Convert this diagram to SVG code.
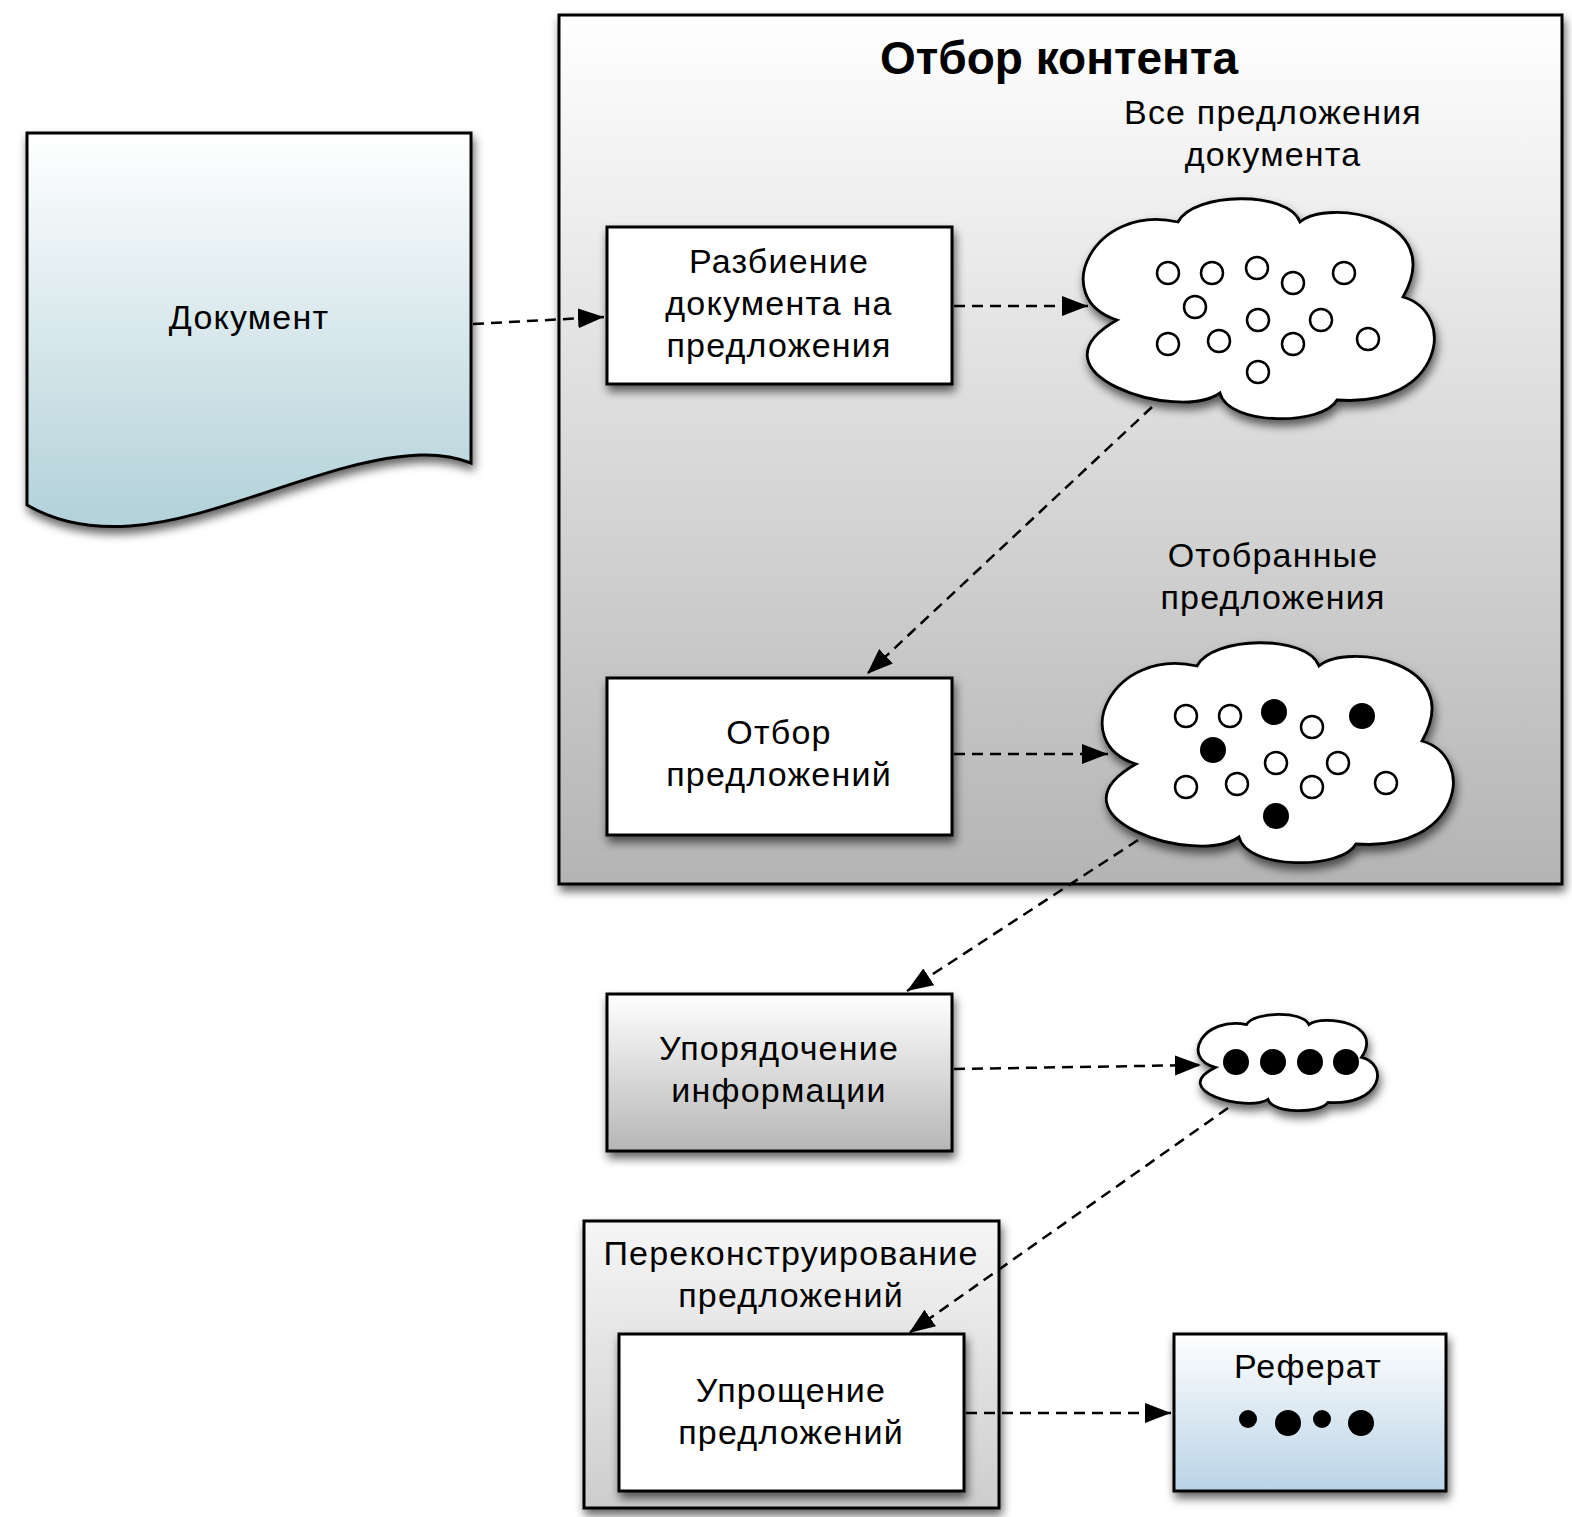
<svg xmlns="http://www.w3.org/2000/svg" width="1572" height="1517" viewBox="0 0 1572 1517">
  <style>
    .lbl { font-family: "Liberation Sans", Arial, Helvetica, sans-serif; font-size: 34px; letter-spacing: 1.2px; fill: #000; text-anchor: middle; }
    .title { font-family: "Liberation Sans", Arial, Helvetica, sans-serif; font-size: 46px; font-weight: bold; fill: #000; text-anchor: middle; }
    .box { stroke: #000; stroke-width: 3; }
    .cloud { fill: #fff; stroke: #000; stroke-width: 2.8; }
    .dot { fill: #fff; stroke: #000; stroke-width: 2.5; }
    .full { fill: #000; }
    .dash { fill: none; stroke: #000; stroke-width: 2.5; stroke-dasharray: 11 7; marker-end: url(#arrow); }
  </style>
  <defs>
    <filter id="shadow" x="-10%" y="-10%" width="125%" height="130%">
      <feDropShadow dx="2" dy="6" stdDeviation="5" flood-color="#000" flood-opacity="0.6"/>
    </filter>
    <linearGradient id="gContainer" x1="0" y1="0" x2="0" y2="1">
      <stop offset="0" stop-color="#ffffff"/>
      <stop offset="1" stop-color="#b4b4b4"/>
    </linearGradient>
    <linearGradient id="gGray" x1="0" y1="0" x2="0" y2="1">
      <stop offset="0" stop-color="#ffffff"/>
      <stop offset="1" stop-color="#b6b6b6"/>
    </linearGradient>
    <linearGradient id="gLight" x1="0" y1="0" x2="0" y2="1">
      <stop offset="0" stop-color="#f6f6f6"/>
      <stop offset="1" stop-color="#cdcdcd"/>
    </linearGradient>
    <linearGradient id="gDoc" x1="0" y1="0" x2="0" y2="1">
      <stop offset="0" stop-color="#ffffff"/>
      <stop offset="1" stop-color="#b2d1d9"/>
    </linearGradient>
    <linearGradient id="gBlue" x1="0" y1="0" x2="0" y2="1">
      <stop offset="0" stop-color="#ffffff"/>
      <stop offset="1" stop-color="#b9d3e6"/>
    </linearGradient>
    <marker id="arrow" markerUnits="userSpaceOnUse" markerWidth="28" markerHeight="22" refX="26" refY="10" orient="auto">
      <path d="M0,0 L26,10 L0,20 Z" fill="#000"/>
    </marker>
  </defs>

  <!-- source document -->
  <g id="document">
    <path d="M27,133 H471 V463 Q448,454 420,455 C330,458 220,520 130,526 Q70,530 27,505 Z" fill="url(#gDoc)" class="box" filter="url(#shadow)"/>
    <text class="lbl" x="249" y="329">Документ</text>
  </g>

  <!-- content selection stage -->
  <g id="content-selection">
    <rect x="559" y="15" width="1003" height="869" fill="url(#gContainer)" stroke="#000" stroke-width="3" filter="url(#shadow)"/>
    <text class="title" x="1059" y="74">Отбор контента</text>
  </g>

  <g id="split">
    <rect x="607" y="227" width="345" height="157" fill="#fff" class="box" filter="url(#shadow)"/>
    <text class="lbl" x="779" y="273">Разбиение</text>
    <text class="lbl" x="779" y="315">документа на</text>
    <text class="lbl" x="779" y="357">предложения</text>
  </g>

  <g id="all-sentences">
    <text class="lbl" x="1273" y="124">Все предложения</text>
    <text class="lbl" x="1273" y="166">документа</text>
    <g filter="url(#shadow)">
      <path d="M95,24 C110,-6 205,-8 217,24 C245,0 365,20 320,99 C375,115 360,210 254,202 C240,228 145,228 137,195 C95,225 -60,175 34,122 C-35,100 10,5 95,24 Z" transform="translate(1083,198)" class="cloud"/>
    </g>
    <circle class="dot" cx="1168" cy="273" r="11"/>
    <circle class="dot" cx="1212" cy="273" r="11"/>
    <circle class="dot" cx="1257" cy="268" r="11"/>
    <circle class="dot" cx="1293" cy="283" r="11"/>
    <circle class="dot" cx="1344" cy="273" r="11"/>
    <circle class="dot" cx="1195" cy="307" r="11"/>
    <circle class="dot" cx="1258" cy="320" r="11"/>
    <circle class="dot" cx="1321" cy="320" r="11"/>
    <circle class="dot" cx="1168" cy="344" r="11"/>
    <circle class="dot" cx="1219" cy="341" r="11"/>
    <circle class="dot" cx="1293" cy="344" r="11"/>
    <circle class="dot" cx="1368" cy="339" r="11"/>
    <circle class="dot" cx="1258" cy="372" r="11"/>
  </g>

  <g id="select">
    <rect x="607" y="678" width="345" height="157" fill="#fff" class="box" filter="url(#shadow)"/>
    <text class="lbl" x="779" y="744">Отбор</text>
    <text class="lbl" x="779" y="786">предложений</text>
  </g>

  <g id="selected-sentences">
    <text class="lbl" x="1273" y="567">Отобранные</text>
    <text class="lbl" x="1273" y="609">предложения</text>
    <g filter="url(#shadow)">
      <path d="M95,24 C110,-6 205,-8 217,24 C245,0 365,20 320,99 C375,115 360,210 254,202 C240,228 145,228 137,195 C95,225 -60,175 34,122 C-35,100 10,5 95,24 Z" transform="translate(1102,642)" class="cloud"/>
    </g>
    <circle class="dot" cx="1186" cy="716" r="11"/>
    <circle class="dot" cx="1230" cy="716" r="11"/>
    <circle class="full" cx="1274" cy="712" r="13"/>
    <circle class="dot" cx="1312" cy="727" r="11"/>
    <circle class="full" cx="1362" cy="716" r="13"/>
    <circle class="full" cx="1213" cy="750" r="13"/>
    <circle class="dot" cx="1276" cy="763" r="11"/>
    <circle class="dot" cx="1338" cy="763" r="11"/>
    <circle class="dot" cx="1186" cy="787" r="11"/>
    <circle class="dot" cx="1237" cy="784" r="11"/>
    <circle class="dot" cx="1312" cy="787" r="11"/>
    <circle class="dot" cx="1386" cy="783" r="11"/>
    <circle class="full" cx="1276" cy="816" r="13"/>
  </g>

  <g id="ordering">
    <rect x="607" y="994" width="345" height="157" fill="url(#gGray)" class="box" filter="url(#shadow)"/>
    <text class="lbl" x="779" y="1060">Упорядочение</text>
    <text class="lbl" x="779" y="1102">информации</text>
  </g>

  <g id="ordered-sentences">
    <g filter="url(#shadow)">
      <path d="M95,24 C110,-6 205,-8 217,24 C245,0 365,20 320,99 C375,115 360,210 254,202 C240,228 145,228 137,195 C95,225 -60,175 34,122 C-35,100 10,5 95,24 Z" transform="translate(1198,1014) scale(0.511,0.438)" class="cloud" vector-effect="non-scaling-stroke"/>
    </g>
    <circle class="full" cx="1236" cy="1062" r="13"/>
    <circle class="full" cx="1273" cy="1062" r="13"/>
    <circle class="full" cx="1310" cy="1062" r="13"/>
    <circle class="full" cx="1346" cy="1062" r="13"/>
  </g>

  <g id="reconstruction">
    <rect x="584" y="1221" width="415" height="287" fill="url(#gLight)" class="box" filter="url(#shadow)"/>
    <text class="lbl" x="791" y="1265">Переконструирование</text>
    <text class="lbl" x="791" y="1307">предложений</text>
  </g>

  <g id="simplify">
    <rect x="619" y="1334" width="345" height="157" fill="#fff" class="box" filter="url(#shadow)"/>
    <text class="lbl" x="791" y="1402">Упрощение</text>
    <text class="lbl" x="791" y="1444">предложений</text>
  </g>

  <g id="summary">
    <rect x="1174" y="1334" width="272" height="157" fill="url(#gBlue)" class="box" filter="url(#shadow)"/>
    <text class="lbl" x="1308" y="1378">Реферат</text>
    <circle class="full" cx="1248" cy="1419" r="9"/>
    <circle class="full" cx="1288" cy="1423" r="13"/>
    <circle class="full" cx="1322" cy="1419" r="9"/>
    <circle class="full" cx="1361" cy="1423" r="13"/>
  </g>

  <!-- connectors -->
  <g id="connectors">
    <line class="dash" x1="473" y1="324" x2="604" y2="317"/>
    <line class="dash" x1="954" y1="306" x2="1088" y2="306"/>
    <line class="dash" x1="1152" y1="407" x2="867" y2="674"/>
    <line class="dash" x1="954" y1="754" x2="1108" y2="754"/>
    <line class="dash" x1="1138" y1="840" x2="907" y2="991"/>
    <line class="dash" x1="954" y1="1069" x2="1201" y2="1065"/>
    <line class="dash" x1="1228" y1="1108" x2="909" y2="1333"/>
    <line class="dash" x1="966" y1="1413" x2="1171" y2="1413"/>
  </g>
</svg>
